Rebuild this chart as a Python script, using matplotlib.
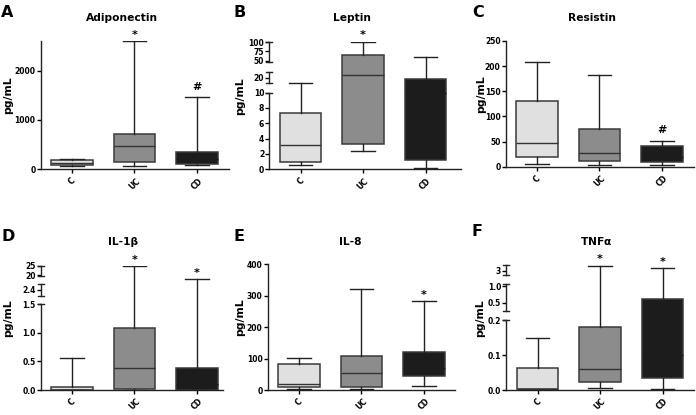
import matplotlib
matplotlib.use('Agg')
import matplotlib.pyplot as plt
import numpy as np

plt.rcParams['font.family'] = ['DejaVu Sans']
plt.rcParams['font.weight'] = 'bold'

# groups and colours
groups = ['C', 'UC', 'CD']
box_colors = ['#e0e0e0', '#8c8c8c', '#1c1c1c']

# five-number summaries per group: whisker low, q1, median, q3, whisker high
adiponectin = [[65, 90, 125, 180, 200], [68, 142, 480, 723, 2595], [95, 108, 200, 358, 1460]]
leptin = [[0.6, 1.0, 3.2, 7.4, 15], [2.4, 3.3, 22.6, 65, 102], [0.2, 1.2, 10, 19, 61]]
resistin = [[6, 20, 48, 130, 209], [3, 10.5, 28, 74, 182], [3, 9, 20, 41, 52]]
il1b = [[0, 0, 0.005, 0.06, 0.56], [0, 0.02, 0.39, 1.08, 24.6], [0, 0, 0.1, 0.38, 12.5]]
il8 = [[3, 10.6, 18, 82, 103], [3, 10, 55, 108, 321], [13, 45, 70, 122, 282]]
tnfa = [[0, 0.002, 0.004, 0.062, 0.149], [0.007, 0.023, 0.059, 0.18, 3.5], [0.002, 0.034, 0.1, 0.61, 3.23]]

# significance marks above the upper whisker
adiponectin_marks = ['', '*', '#']
leptin_marks = ['', '*', '']
resistin_marks = ['', '', '#']
il1b_marks = ['', '*', '*']
il8_marks = ['', '', '*']
tnfa_marks = ['', '*', '*']

# y ticks
adiponectin_ticks = [0, 1000, 2000]
leptin_ticks = [0, 2, 4, 6, 8, 10, 20, 50, 75, 100]
resistin_ticks = [0, 50, 100, 150, 200, 250]
il1b_ticks = [0, 0.5, 1.0, 1.5, 2.4, 20, 25]
il1b_ticklabels = ['0.0', '0.5', '1.0', '1.5', '2.4', '20', '25']
il8_ticks = [0, 100, 200, 300, 400]
tnfa_ticks = [0, 0.1, 0.2, 0.5, 1.0, 3]
tnfa_ticklabels = ['0.0', '0.1', '0.2', '0.5', '1.0', '3']

# broken axis segments: (data low, data high, screen low, screen high)
leptin_segs = [(0, 10, 0, 230), (15, 25, 258, 292), (45, 102, 320.5, 383.2)]
il1b_segs = [(0, 1.5, 0, 258), (2.2, 2.6, 283, 318), (19.5, 25, 342, 373)]
tnfa_segs = [(0, 0.2, 0, 209), (0.25, 1.06, 237, 317), (2.55, 3.55, 345, 375)]

W, H = 696, 415
fig = plt.figure(figsize=(W / 100, H / 100), dpi=100)


def make_scale(segs):
    d = np.array([v for s in segs for v in s[:2]], float)
    p = np.array([v for s in segs for v in s[2:]], float)

    def mapper(a, b):
        def f(x):
            x = np.asarray(x, float)
            y = np.interp(x, a, b)
            y = np.where(x < a[0], b[0] + (x - a[0]) * (b[1] - b[0]) / (a[1] - a[0]), y)
            y = np.where(x > a[-1], b[-1] + (x - a[-1]) * (b[-1] - b[-2]) / (a[-1] - a[-2]), y)
            return y
        return f
    return mapper(d, p), mapper(p, d)


def panel(rect, letter, title, stats, marks, ticks, ticklabels, ylim, label_x,
          letter_xy, title_xy, segs=None):
    l, r, top, bottom = rect
    ax = fig.add_axes([l / W, 1 - bottom / H, (r - l) / W, (bottom - top) / H])
    if segs is not None:
        ax.set_yscale('function', functions=make_scale(segs))

    bstats = [dict(whislo=s[0], q1=s[1], med=s[2], q3=s[3], whishi=s[4], label=g)
              for s, g in zip(stats, groups)]
    bp = ax.bxp(bstats, positions=[1, 2, 3], widths=0.67, capwidths=0.37,
                patch_artist=True, showfliers=False,
                boxprops=dict(edgecolor='#3a3a3a', linewidth=1.1),
                whiskerprops=dict(color='#222222', linewidth=1),
                capprops=dict(color='#222222', linewidth=1),
                medianprops=dict(color='#333333', linewidth=1))
    for patch, c in zip(bp['boxes'], box_colors):
        patch.set_facecolor(c)
    for med in bp['medians'][2:]:
        med.set_color('#1c1c1c')

    for i, (s, m) in enumerate(zip(stats, marks)):
        if m:
            off = 2.5 if m == '*' else 5.5
            ax.annotate(m, (i + 1, s[4]), xytext=(0, off), textcoords='offset points',
                        ha='center', va='baseline', fontsize=8, fontweight='bold')

    ax.set_xlim(0.5, 0.5 + (r - l) / 62.5)
    ax.set_ylim(0, ylim)
    ax.set_yticks(ticks)
    if ticklabels is not None:
        ax.set_yticklabels(ticklabels)
    ax.set_xticks([1, 2, 3])
    ax.set_xticklabels(groups, rotation=45, ha='center', va='top')
    ax.tick_params(axis='y', direction='out', length=3, width=1, labelsize=5.5, pad=0.7)
    ax.tick_params(axis='x', direction='out', length=3, width=1, labelsize=5.5, pad=2)
    ax.spines['top'].set_visible(False)
    ax.spines['right'].set_visible(False)
    for sp in ['left', 'bottom']:
        ax.spines[sp].set_linewidth(1)
        ax.spines[sp].set_color('#222222')

    if segs is not None:
        ax.spines['left'].set_visible(False)
        tr = ax.get_yaxis_transform()
        cap = 3.0 / (r - l)
        for lo, hi, _, _ in segs:
            ax.plot([0, 0], [lo, hi], transform=tr, color='#222222', lw=1, clip_on=False)
            ends = [hi] if lo == 0 else [lo, hi]
            for e in ends:
                ax.plot([-cap, cap], [e, e], transform=tr, color='#222222', lw=1,
                        clip_on=False)

    ax.set_ylabel('pg/mL', fontsize=7.8, fontweight='bold')
    ax.yaxis.set_label_coords(label_x, 0.575)

    fig.text(letter_xy[0] / W, 1 - letter_xy[1] / H, letter, fontsize=11.5,
             fontweight='bold', ha='left', va='baseline')
    fig.text(title_xy[0] / W, 1 - title_xy[1] / H, title, fontsize=7.7,
             fontweight='bold', ha='center', va='baseline')
    return ax


panel((40.7, 228.7, 41, 169.3), 'A', 'Adiponectin', adiponectin, adiponectin_marks,
      adiponectin_ticks, None, 2600, -0.149, (1, 16.9), (121.7, 21))
panel((269.3, 461, 41.6, 169.3), 'B', 'Leptin', leptin, leptin_marks,
      leptin_ticks, None, 102, -0.128, (233.7, 16.9), (352, 20.7), leptin_segs)
panel((505.7, 694, 41, 166.7), 'C', 'Resistin', resistin, resistin_marks,
      resistin_ticks, None, 250, -0.106, (472, 16.9), (592, 21))
panel((40.7, 223.3, 265.7, 390), 'D', 'IL-1β', il1b, il1b_marks,
      il1b_ticks, il1b_ticklabels, 25, -0.153, (1.7, 240.8), (123.3, 245.3), il1b_segs)
panel((267.7, 454.7, 264, 390), 'E', 'IL-8', il8, il8_marks,
      il8_ticks, None, 400, -0.123, (233.7, 240.8), (350.7, 245.3))
panel((506.3, 694, 265, 390), 'F', r'TNF$\mathrm{\alpha}$', tnfa, tnfa_marks,
      tnfa_ticks, tnfa_ticklabels, 3.55, -0.115, (471.3, 236), (595.7, 244.7), tnfa_segs)

fig.savefig('out.png', dpi=100)
